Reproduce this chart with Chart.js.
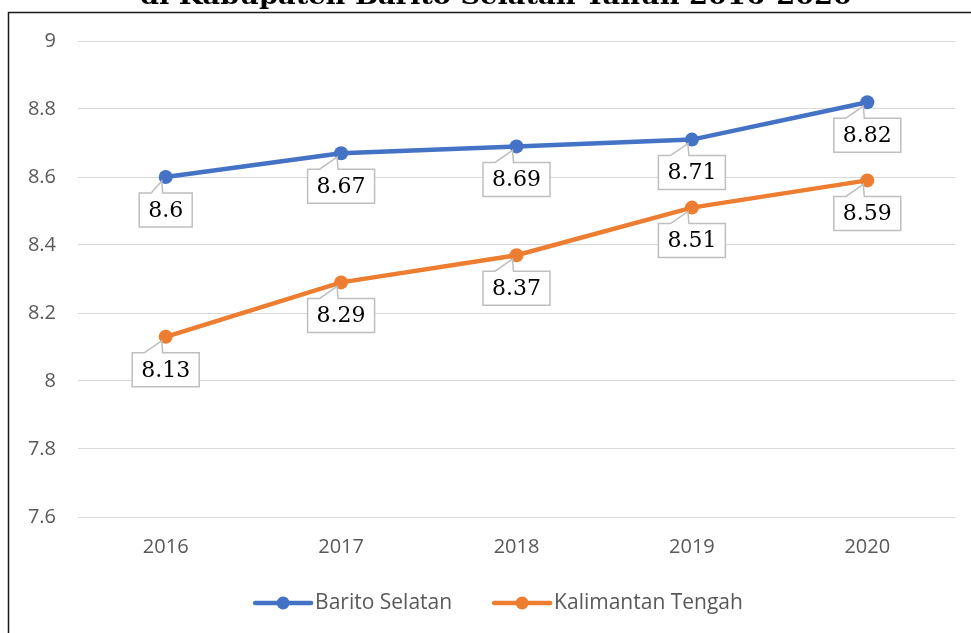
<!DOCTYPE html>
<html>
<head>
<meta charset="utf-8">
<script src="https://cdn.jsdelivr.net/npm/chart.js@4.4.1/dist/chart.umd.min.js"></script>
<style>
  html, body { margin: 0; padding: 0; background: #fff; }
  #wrap { width: 971px; height: 633px; position: relative; }
</style>
</head>
<body>
<div id="wrap"><canvas id="myChart" width="971" height="633"></canvas></div>
<script>
// data
var years = ['2016', '2017', '2018', '2019', '2020'];
var baritoSelatan = [8.6, 8.67, 8.69, 8.71, 8.82];
var kalimantanTengah = [8.13, 8.29, 8.37, 8.51, 8.59];
var seriesNames = ['Barito Selatan', 'Kalimantan Tengah'];
var yTicks = [7.6, 7.8, 8, 8.2, 8.4, 8.6, 8.8, 9];
var titleText = 'di Kabupaten Barito Selatan Tahun 2016-2020';

var blue = '#4472C4';
var orange = '#ED7D31';
var tickFont = { family: 'Open Sans', size: 20 };

// frame + clipped title
var framePlugin = {
    id: 'frame',
    beforeDraw: function (chart) {
        var ctx = chart.ctx;
        ctx.save();
        ctx.fillStyle = '#fff';
        ctx.fillRect(0, 0, chart.width, chart.height);
        ctx.font = 'bold 24px "DejaVu Serif"';
        ctx.fillStyle = '#000';
        ctx.textAlign = 'left';
        ctx.textBaseline = 'alphabetic';
        var w = ctx.measureText(titleText).width;
        var sx = 712 / w;
        ctx.translate(140, 4);
        ctx.scale(sx, 1);
        ctx.fillText(titleText, 0, 0);
        ctx.restore();

        ctx.save();
        ctx.strokeStyle = '#1a1a1a';
        ctx.lineWidth = 1.5;
        ctx.beginPath();
        ctx.moveTo(8.5, chart.height);
        ctx.lineTo(8.5, 12.5);
        ctx.lineTo(chart.width, 12.5);
        ctx.stroke();
        ctx.restore();
    }
};

// callout labels under each point
var calloutPlugin = {
    id: 'callouts',
    afterDatasetsDraw: function (chart) {
        var ctx = chart.ctx;
        ctx.save();
        ctx.font = '22px "DejaVu Serif"';
        ctx.textAlign = 'center';
        ctx.textBaseline = 'middle';
        chart.data.datasets.forEach(function (ds, di) {
            var meta = chart.getDatasetMeta(di);
            meta.data.forEach(function (pt, i) {
                var txt = String(ds.data[i]);
                var tw = ctx.measureText(txt).width;
                var bw = tw + 18, bh = 34;
                var left = pt.x - bw / 2, top = pt.y + 16;
                var right = left + bw, bottom = top + bh;
                var w1 = left + 12, w2 = pt.x - 3;
                ctx.beginPath();
                ctx.moveTo(left, top);
                ctx.lineTo(w1, top);
                ctx.lineTo(pt.x - 4, pt.y + 4);
                ctx.lineTo(w2, top);
                ctx.lineTo(right, top);
                ctx.lineTo(right, bottom);
                ctx.lineTo(left, bottom);
                ctx.closePath();
                ctx.fillStyle = '#fff';
                ctx.fill();
                ctx.strokeStyle = '#bfbfbf';
                ctx.lineWidth = 1.5;
                ctx.stroke();
                ctx.fillStyle = '#000';
                ctx.fillText(txt, pt.x, top + bh / 2 + 1);
            });
        });
        ctx.restore();
    }
};

// legend drawn like the office one: line with marker
var legendPlugin = {
    id: 'lineLegend',
    afterDraw: function (chart) {
        var ctx = chart.ctx;
        var colors = [blue, orange];
        var y = 603;
        ctx.save();
        ctx.font = '21px "Open Sans"';
        ctx.textBaseline = 'middle';
        ctx.textAlign = 'left';
        var itemW = seriesNames.map(function (n) { return 56 + 4 + ctx.measureText(n).width; });
        var gap = 42;
        var total = itemW[0] + itemW[1] + gap;
        var x = 499 - total / 2;
        seriesNames.forEach(function (name, i) {
            ctx.strokeStyle = colors[i];
            ctx.lineWidth = 4.5;
            ctx.lineCap = 'round';
            ctx.beginPath();
            ctx.moveTo(x, y);
            ctx.lineTo(x + 56, y);
            ctx.stroke();
            ctx.fillStyle = colors[i];
            ctx.beginPath();
            ctx.arc(x + 28, y, 6.5, 0, Math.PI * 2);
            ctx.fill();
            ctx.fillStyle = '#595959';
            ctx.fillText(name, x + 60, y);
            x += itemW[i] + gap;
        });
        ctx.restore();
    }
};

var ctx = document.getElementById('myChart').getContext('2d');
var myChart = new Chart(ctx, {
    type: 'line',
    data: {
        labels: years,
        datasets: [{
            label: seriesNames[0],
            data: baritoSelatan,
            borderColor: blue,
            backgroundColor: blue,
            borderWidth: 4.5,
            pointRadius: 7,
            pointBorderWidth: 0,
            pointBackgroundColor: blue,
            tension: 0
        }, {
            label: seriesNames[1],
            data: kalimantanTengah,
            borderColor: orange,
            backgroundColor: orange,
            borderWidth: 4.5,
            pointRadius: 7,
            pointBorderWidth: 0,
            pointBackgroundColor: orange,
            tension: 0
        }]
    },
    options: {
        responsive: false,
        animation: false,
        layout: { padding: { left: 8, top: 41, right: 16, bottom: 0 } },
        plugins: {
            legend: { display: false },
            tooltip: { enabled: false }
        },
        scales: {
            x: {
                offset: true,
                grid: { display: false, drawTicks: false },
                border: { display: false },
                ticks: { font: tickFont, color: '#595959', padding: 18 },
                afterFit: function (s) { s.height = 116; }
            },
            y: {
                min: 7.6,
                max: 9,
                afterBuildTicks: function (s) {
                    s.ticks = yTicks.map(function (v) { return { value: v }; });
                },
                grid: { color: '#d9d9d9', lineWidth: 1, drawTicks: false },
                border: { display: false },
                ticks: {
                    font: tickFont,
                    color: '#595959',
                    padding: 22,
                    callback: function (v) { return String(Number(v.toFixed(1))); }
                },
                afterFit: function (s) { s.width = 70; }
            }
        }
    },
    plugins: [framePlugin, calloutPlugin, legendPlugin]
});
</script>
</body>
</html>
